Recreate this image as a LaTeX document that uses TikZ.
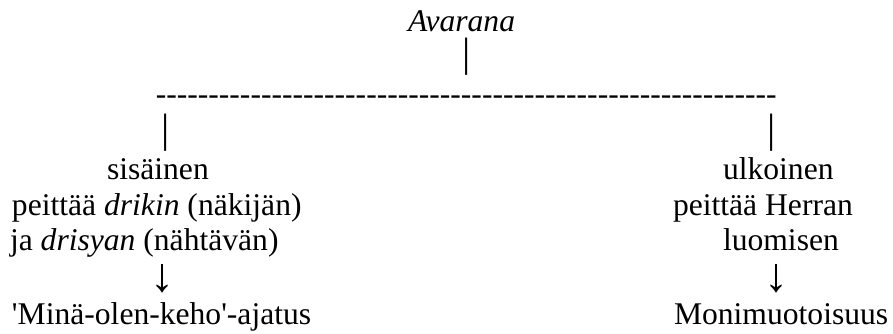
\documentclass[tikz,border=0pt]{standalone}
\usepackage{fontspec}
\setmainfont{Liberation Serif}[Ligatures=TeXOff]
\begin{document}
\begin{tikzpicture}[x=1pt,y=-1pt,
  txt/.style={inner sep=0pt,outer sep=0pt,anchor=base west,font=\fontsize{31.6}{36}\selectfont},
  barglyph/.style={inner sep=0pt,outer sep=0pt,anchor=center,font=\fontsize{41}{44}\selectfont},
  arrowglyph/.style={inner sep=0pt,outer sep=0pt,anchor=center,font=\fontsize{48}{50}\selectfont},
  dashglyph/.style={inner sep=0pt,outer sep=0pt,anchor=base west,font=\fontsize{31.6}{36}\selectfont}]
\useasboundingbox (0,0) rectangle (893,333);
% top
\node[txt] (avarana) at (408,31) {\itshape Avarana};
\node[barglyph] (bartop) at (466.5,57) {|};
\node[dashglyph] (dashes) at (155.8,104.5) {-{}-{}-{}-{}-{}-{}-{}-{}-{}-{}-{}-{}-{}-{}-{}-{}-{}-{}-{}-{}-{}-{}-{}-{}-{}-{}-{}-{}-{}-{}-{}-{}-{}-{}-{}-{}-{}-{}-{}-{}-{}-{}-{}-{}-{}-{}-{}-{}-{}-{}-{}-{}-{}-{}-{}-{}-{}-{}-};
\node[barglyph] (barleft) at (166,132.5) {|};
\node[barglyph] (barright) at (772,132.5) {|};
% left branch
\node[txt] (sisainen) at (107,179) {sisäinen};
\node[txt] (peittaa1) at (12,215) {peittää \textit{drikin} (näkijän)};
\node[txt] (ja) at (10,250) {ja \textit{drisyan} (nähtävän)};
\node[arrowglyph] (arrowleft) at (162.5,278.5) {↓};
\node[txt] (mina) at (12,324) {'Minä-olen-keho'-ajatus};
% right branch
\node[txt] (ulkoinen) at (723,179) {ulkoinen};
\node[txt] (herran) at (673,215) {peittää Herran};
\node[txt] (luomisen) at (723,250) {luomisen};
\node[arrowglyph] (arrowright) at (776.5,278.5) {↓};
\node[txt] (moni) at (674,324) {Monimuotoisuus};
\end{tikzpicture}
\end{document}
